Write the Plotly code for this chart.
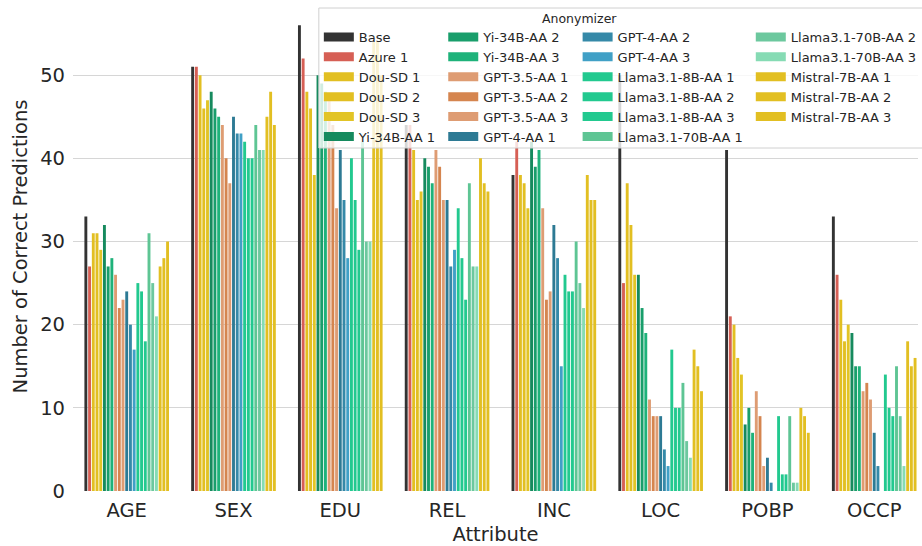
import plotly.graph_objects as go

# Attributes on the x axis
attributes = ["AGE", "SEX", "EDU", "REL", "INC", "LOC", "POBP", "OCCP"]

# Number of correct predictions per anonymizer, in attribute order
base = [33, 51, 56, 44, 38, 50, 41, 33]
azure_1 = [27, 51, 52, 44, 42, 25, 21, 26]
dou_sd_1 = [31, 50, 48, 41, 38, 37, 20, 23]
dou_sd_2 = [31, 46, 46, 35, 37, 32, 16, 18]
dou_sd_3 = [29, 47, 38, 36, 34, 26, 14, 20]
yi_1 = [32, 48, 50, 40, 42, 26, 8, 19]
yi_2 = [27, 46, 49, 39, 39, 22, 10, 15]
yi_3 = [28, 45, 48, 37, 41, 19, 7, 15]
gpt35_1 = [26, 44, 47, 41, 34, 11, 12, 12]
gpt35_2 = [22, 40, 44, 39, 23, 9, 9, 13]
gpt35_3 = [23, 37, 34, 35, 24, 9, 3, 11]
gpt4_1 = [24, 45, 41, 35, 32, 9, 4, 7]
gpt4_2 = [20, 43, 35, 27, 28, 5, 1, 3]
gpt4_3 = [17, 43, 28, 29, 15, 3, 0, 0]
llama8_1 = [25, 42, 40, 34, 26, 17, 9, 14]
llama8_2 = [24, 40, 35, 28, 24, 10, 2, 10]
llama8_3 = [18, 40, 29, 23, 24, 10, 2, 9]
llama70_1 = [31, 44, 42, 37, 30, 13, 9, 15]
llama70_2 = [25, 41, 30, 27, 25, 6, 1, 9]
llama70_3 = [21, 41, 30, 27, 22, 4, 1, 3]
mistral_1 = [27, 45, 54, 40, 38, 17, 10, 18]
mistral_2 = [28, 48, 54, 37, 35, 15, 9, 15]
mistral_3 = [30, 44, 50, 36, 35, 12, 7, 16]

series = [
    ("Base", base, "#333333"),
    ("Azure 1", azure_1, "#d65f55"),
    ("Dou-SD 1", dou_sd_1, "#e2bf22"),
    ("Dou-SD 2", dou_sd_2, "#e2bf22"),
    ("Dou-SD 3", dou_sd_3, "#e2c426"),
    ("Yi-34B-AA 1", yi_1, "#168a5e"),
    ("Yi-34B-AA 2", yi_2, "#199e6b"),
    ("Yi-34B-AA 3", yi_3, "#1eb27a"),
    ("GPT-3.5-AA 1", gpt35_1, "#de9c73"),
    ("GPT-3.5-AA 2", gpt35_2, "#d5854f"),
    ("GPT-3.5-AA 3", gpt35_3, "#de9c73"),
    ("GPT-4-AA 1", gpt4_1, "#2d7a94"),
    ("GPT-4-AA 2", gpt4_2, "#3589a8"),
    ("GPT-4-AA 3", gpt4_3, "#40a0c6"),
    ("Llama3.1-8B-AA 1", llama8_1, "#22c98f"),
    ("Llama3.1-8B-AA 2", llama8_2, "#22c98f"),
    ("Llama3.1-8B-AA 3", llama8_3, "#22c98f"),
    ("Llama3.1-70B-AA 1", llama70_1, "#5ec594"),
    ("Llama3.1-70B-AA 2", llama70_2, "#6cc89e"),
    ("Llama3.1-70B-AA 3", llama70_3, "#86dbb4"),
    ("Mistral-7B-AA 1", mistral_1, "#e2bf22"),
    ("Mistral-7B-AA 2", mistral_2, "#e2bf22"),
    ("Mistral-7B-AA 3", mistral_3, "#e2bf22"),
]

W, H = 922, 546
ML, MR, MT, MB = 73, 0, 2, 55
PW, PH = W - ML - MR, H - MT - MB
FONT = "DejaVu Sans"
TXT = "#262626"


def px_x(x):
    return (x - ML) / PW


def px_y(y):
    return (H - MB - y) / PH


fig = go.Figure()

for name, vals, color in series:
    fig.add_trace(go.Bar(
        x=attributes, y=vals, name=name, marker_color=color,
        marker_line_width=0, showlegend=False,
    ))

# Legend entries: four columns of six, drawn as wide swatches
legend_ids = ["legend", "legend2", "legend3", "legend4"]
for i, (name, vals, color) in enumerate(series):
    fig.add_trace(go.Scatter(
        x=[None], y=[None], mode="lines", name=name,
        line=dict(color=color, width=9),
        legend=legend_ids[i // 6], hoverinfo="skip",
    ))

col_left = [320, 445, 580, 754]
legend_layouts = {}
for lid, xl in zip(legend_ids, col_left):
    legend_layouts[lid] = dict(
        x=px_x(xl), y=px_y(22), xanchor="left", yanchor="top",
        bgcolor="rgba(0,0,0,0)", borderwidth=0,
        font=dict(family=FONT, size=13, color=TXT),
        itemwidth=30, tracegroupgap=0,
    )

fig.update_layout(
    width=W, height=H,
    margin=dict(l=ML, r=MR, t=MT, b=MB),
    paper_bgcolor="white", plot_bgcolor="white",
    barmode="group", bargap=0.2, bargroupgap=0.22,
    font=dict(family=FONT, color=TXT),
    **legend_layouts,
    xaxis=dict(
        type="category", range=[-0.503, 7.41],
        showgrid=False, zeroline=False, showline=False, ticks="",
        tickfont=dict(size=19.5, color=TXT), ticklabelstandoff=5,
        title=dict(text="Attribute", font=dict(size=19.5, color=TXT), standoff=8),
    ),
    yaxis=dict(
        range=[0, 58.8], tickvals=[0, 10, 20, 30, 40, 50],
        showgrid=True, gridcolor="#d6d6d6", gridwidth=1.2,
        zeroline=False, showline=False, ticks="",
        tickfont=dict(size=19.5, color=TXT), ticklabelstandoff=7,
        title=dict(text="Number of Correct Predictions",
                   font=dict(size=19.5, color=TXT), standoff=7),
    ),
    shapes=[dict(
        type="rect", xref="paper", yref="paper", layer="above",
        x0=px_x(320), x1=px_x(935), y0=px_y(148), y1=px_y(8),
        fillcolor="rgba(255,255,255,0.8)", line=dict(color="#d0d0d0", width=1),
    )],
    annotations=[dict(
        text="Anonymizer", xref="paper", yref="paper",
        x=px_x(582), y=px_y(19), xanchor="center", yanchor="middle",
        showarrow=False, font=dict(family=FONT, size=12.5, color=TXT),
    )],
)

fig.write_html("out.html")
